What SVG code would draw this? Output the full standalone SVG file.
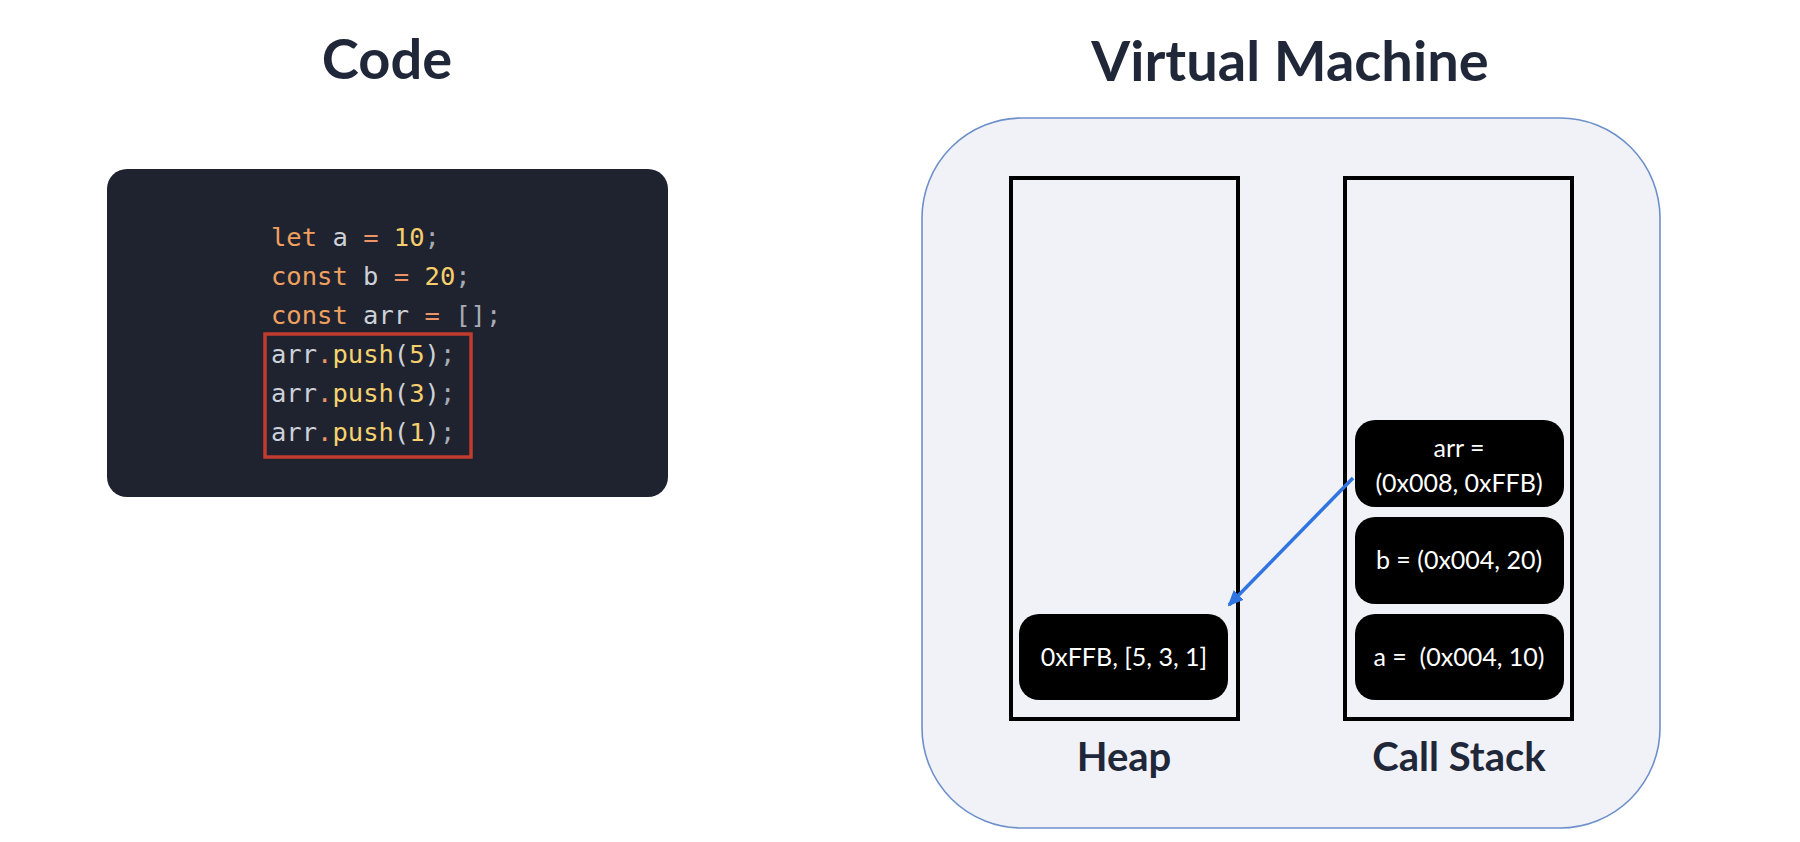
<svg xmlns="http://www.w3.org/2000/svg" width="1800" height="842" viewBox="0 0 1800 842">
<defs>
<style>
.title{font-family:Lato,"Open Sans","Liberation Sans",sans-serif;font-weight:700;font-size:56px;fill:#1f2739;text-anchor:middle}
.label{font-family:Lato,"Open Sans","Liberation Sans",sans-serif;font-weight:700;font-size:40px;fill:#1f2739;text-anchor:middle}
.code{font-family:"DejaVu Sans Mono","Liberation Mono",monospace;font-size:25.5px;white-space:pre}
.kw{fill:#f0a05e}.var{fill:#cdd1d8}.op{fill:#ee9366}.num{fill:#f6cf6c}.pn{fill:#a7acb4}.fn{fill:#f6d36e}
.box{fill:none;stroke:#000;stroke-width:4}
.node{fill:#000}
.nt{font-family:Lato,"Liberation Sans",sans-serif;font-size:25px;fill:#fff;text-anchor:middle;white-space:pre}
</style>
<marker id="ah" markerWidth="16" markerHeight="16" refX="14" refY="8" orient="auto" markerUnits="userSpaceOnUse" viewBox="0 0 16 16">
<path d="M0,1 L16,8 L0,15 z" fill="#2f74e0"/>
</marker>
</defs>
<rect width="1800" height="842" fill="#fff"/>
<text class="title" x="387" y="79">Code</text>
<text class="title" x="1290" y="81">Virtual Machine</text>
<g id="code-panel">
<rect x="107" y="169" width="561" height="328" rx="20" fill="#1f2330"/>
<text class="code" x="271" y="246"><tspan class="kw">let</tspan><tspan class="var"> a </tspan><tspan class="op">=</tspan> <tspan class="num">10</tspan><tspan class="pn">;</tspan></text>
<text class="code" x="271" y="285"><tspan class="kw">const</tspan><tspan class="var"> b </tspan><tspan class="op">=</tspan> <tspan class="num">20</tspan><tspan class="pn">;</tspan></text>
<text class="code" x="271" y="324"><tspan class="kw">const</tspan><tspan class="var"> arr </tspan><tspan class="op">=</tspan> <tspan class="pn">[];</tspan></text>
<text class="code" x="271" y="363"><tspan class="var">arr</tspan><tspan class="op">.</tspan><tspan class="fn">push</tspan><tspan class="var">(</tspan><tspan class="num">5</tspan><tspan class="var">)</tspan><tspan class="pn">;</tspan></text>
<text class="code" x="271" y="402"><tspan class="var">arr</tspan><tspan class="op">.</tspan><tspan class="fn">push</tspan><tspan class="var">(</tspan><tspan class="num">3</tspan><tspan class="var">)</tspan><tspan class="pn">;</tspan></text>
<text class="code" x="271" y="441"><tspan class="var">arr</tspan><tspan class="op">.</tspan><tspan class="fn">push</tspan><tspan class="var">(</tspan><tspan class="num">1</tspan><tspan class="var">)</tspan><tspan class="pn">;</tspan></text>
<rect x="265" y="334" width="206" height="123" fill="none" stroke="#c23b2f" stroke-width="3.5"/>
</g>
<g id="vm">
<rect x="922" y="118" width="738" height="710" rx="100" fill="#f1f2f8" stroke="#6d90cb" stroke-width="1.6"/>
</g>
<g id="heap">
<rect class="box" x="1011" y="178" width="227" height="541"/>
<text class="label" x="1124" y="771">Heap</text>
</g>
<g id="call-stack">
<rect class="box" x="1345" y="178" width="227" height="541"/>
<text class="label" x="1459" y="771">Call Stack</text>
</g>
<g id="heap-arr">
<rect class="node" x="1019" y="614" width="209" height="86" rx="20"/>
<text class="nt" x="1124" y="666">0xFFB, [5, 3, 1]</text>
</g>
<g id="stack-arr">
<rect class="node" x="1355" y="420" width="209" height="87" rx="20"/>
<text class="nt" x="1459" y="457">arr =</text>
<text class="nt" x="1459" y="492">(0x008, 0xFFB)</text>
</g>
<g id="stack-b">
<rect class="node" x="1355" y="517" width="209" height="87" rx="20"/>
<text class="nt" x="1459" y="569">b = (0x004, 20)</text>
</g>
<g id="stack-a">
<rect class="node" x="1355" y="614" width="209" height="86" rx="20"/>
<text class="nt" x="1459" y="666">a =  (0x004, 10)</text>
</g>
<g id="connectors">
<line x1="1353" y1="478" x2="1229" y2="605" stroke="#2f74e0" stroke-width="3.5" marker-end="url(#ah)"/>
</g>
</svg>
